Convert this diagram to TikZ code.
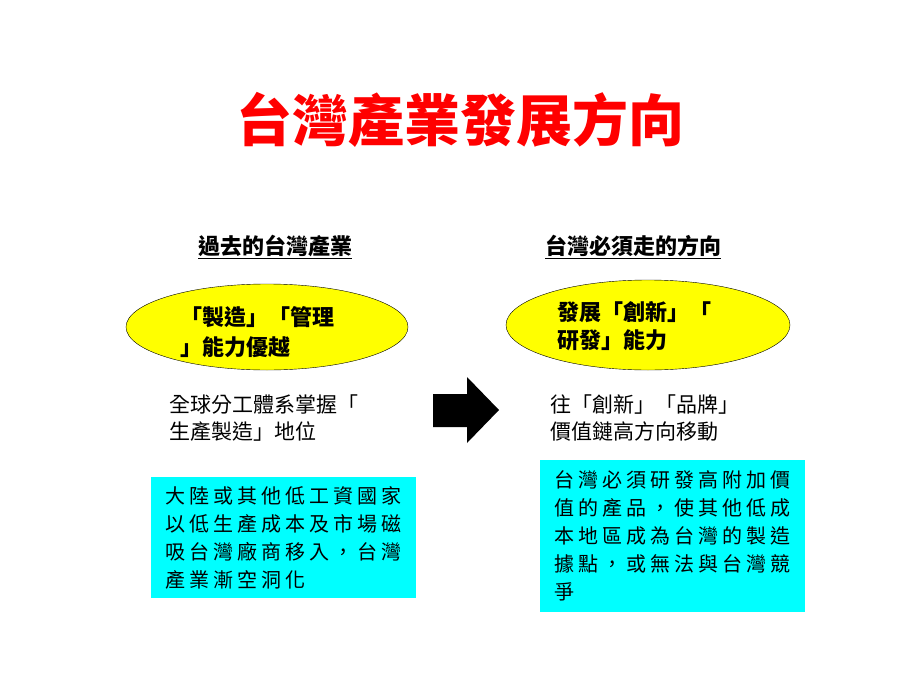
\documentclass[tikz,border=0pt]{standalone}
\usepackage{fontspec}
\setmainfont{Noto Sans CJK TC}
\newfontfamily\boxfont[LetterSpace=20]{Noto Sans CJK TC}
\usetikzlibrary{shapes.geometric}
\definecolor{titlered}{RGB}{255,0,0}
\definecolor{ellyellow}{RGB}{255,255,0}
\definecolor{boxcyan}{RGB}{0,255,255}

\begin{document}
\begin{tikzpicture}[x=1pt, y=-1pt, every node/.style={inner sep=0pt, align=left}]
    \useasboundingbox (0,0) rectangle (920,690);
    \node[text=titlered, font=\fontsize{56}{60}\selectfont\bfseries] (title) at (460,120) {台灣產業發展方向};
    % column heads
    \node[font=\fontsize{22}{24}\selectfont\bfseries] (pastHead) at (275,247) {\underline{過去的台灣產業}};
    \node[font=\fontsize{22}{24}\selectfont\bfseries] (futureHead) at (633,247) {\underline{台灣必須走的方向}};
    % ellipses
    \node[ellipse, draw, thin, fill=ellyellow, minimum width=282, minimum height=86] (pastEll) at (267,327) {};
    \node[anchor=west, font=\fontsize{22}{30}\selectfont\bfseries] (pastEllText) at (180,332) {「製造」「管理\\」能力優越};
    \node[ellipse, draw, thin, fill=ellyellow, minimum width=284, minimum height=90] (futureEll) at (648,325) {};
    \node[anchor=west, font=\fontsize{22}{28}\selectfont\bfseries] (futureEllText) at (557,326) {發展「創新」「\\研發」能力};
    % plain text
    \node[anchor=west, font=\fontsize{21}{27}\selectfont] (pastText) at (169,418) {全球分工體系掌握「\\生產製造」地位};
    \node[anchor=west, font=\fontsize{21}{27}\selectfont] (futureText) at (550,418) {往「創新」「品牌」\\價值鏈高方向移動};
    % block arrow
    \fill (433,394) -- (467,394) -- (467,377) -- (499,410) -- (467,443) -- (467,427) -- (433,427) -- cycle;
    % cyan boxes
    \node[anchor=north west, fill=boxcyan, minimum width=265, minimum height=121, font=\boxfont\fontsize{20}{28}\selectfont] (pastBox) at (151,477)
        {大陸或其他低工資國家\\以低生產成本及市場磁\\吸台灣廠商移入，台灣\\產業漸空洞化};
    \node[anchor=north west, fill=boxcyan, minimum width=265, minimum height=152, font=\boxfont\fontsize{20}{28}\selectfont] (futureBox) at (540,460)
        {台灣必須研發高附加價\\值的產品，使其他低成\\本地區成為台灣的製造\\據點，或無法與台灣競\\爭};
\end{tikzpicture}
\end{document}
